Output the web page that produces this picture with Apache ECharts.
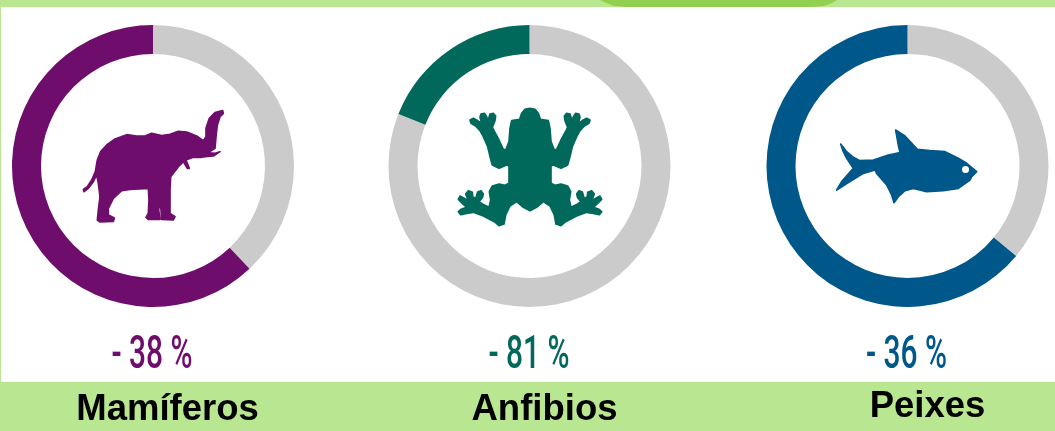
<!DOCTYPE html>
<html>
<head>
<meta charset="utf-8">
<style>
  html, body { margin: 0; padding: 0; background: #fff; }
  #chart { width: 1055px; height: 431px; }
</style>
<script src="https://cdn.jsdelivr.net/npm/echarts@6/dist/echarts.min.js"></script>
</head>
<body>
<div id="chart"></div>
<script>
const groups = ["Mamíferos", "Anfibios", "Peixes"];
const lossValues = [38, 81, 36];
const remainValues = [62, 19, 64];
const lossLabels = ["- 38 %", "- 81 %", "- 36 %"];

// layout
const ringColors = ["#6e0d6c", "#00695c", "#00578a"];
const ringCenters = [[153, 166], [529.5, 166], [907.5, 166]];
const lossLabelX = [152, 529, 906.5];
const groupLabelX = [167.5, 544.5, 927.5];
const groupLabelY = [410, 410, 407];

// icon outlines, in the coordinates of a 3x crop
const elephant = [[428,32],[405,38],[388,55],[378,85],[378,110],[370,122],[350,108],[320,96],[295,94],[270,103],[245,107],[215,100],[195,108],[170,108],[140,104],[105,117],[80,135],[62,155],[52,180],[46,215],[35,240],[22,260],[10,268],[12,275],[25,265],[40,245],[50,225],[55,250],[60,290],[55,330],[52,360],[60,366],[100,364],[103,354],[85,345],[85,325],[100,295],[125,272],[150,268],[205,265],[207,300],[205,340],[198,352],[205,358],[240,358],[236,330],[240,300],[243,330],[245,358],[280,360],[285,350],[270,340],[270,270],[272,230],[295,200],[310,185],[322,205],[328,205],[318,180],[340,172],[362,172],[375,170],[400,168],[420,155],[405,160],[385,158],[405,145],[408,110],[412,75],[420,50],[430,40]];
const frogHalf = [[225,25],[240,28],[250,40],[256,58],[280,62],[285,85],[288,125],[298,150],[305,148],[318,120],[333,92],[338,82],[330,62],[328,48],[335,40],[345,42],[348,52],[350,64],[355,50],[362,40],[372,42],[375,52],[370,70],[385,60],[395,55],[405,60],[402,70],[388,78],[375,92],[365,110],[352,140],[345,170],[338,195],[318,205],[295,195],[288,198],[288,250],[300,256],[318,252],[338,258],[347,275],[343,300],[348,322],[368,312],[378,305],[368,293],[365,282],[372,272],[382,276],[388,296],[397,290],[398,277],[410,272],[418,282],[410,303],[425,293],[435,288],[440,298],[428,310],[415,322],[432,328],[440,335],[433,344],[415,340],[395,337],[365,348],[332,365],[318,377],[303,372],[298,345],[285,318],[265,305],[245,322],[225,332]];
const fish = [[32,72],[50,95],[70,112],[90,122],[130,120],[175,105],[210,98],[205,75],[197,30],[225,48],[262,88],[300,92],[345,95],[385,115],[410,130],[440,155],[425,170],[420,180],[385,205],[340,212],[290,215],[250,205],[225,212],[205,230],[192,248],[185,225],[170,195],[140,160],[135,150],[100,160],[60,185],[20,210],[35,185],[70,145],[50,115],[40,95]];
const tab = [[600,0],[606,3],[614,6],[626,7],[812,7],[824,6],[832,3],[837,0]];

function icon(points, x, y, color) {
  return {
    type: "polygon",
    x: x,
    y: y,
    scaleX: 1 / 3,
    scaleY: 1 / 3,
    z: 5,
    shape: { points: points },
    style: { fill: color, stroke: color, lineWidth: 5, lineJoin: "round" },
  };
}

const frog = frogHalf.concat(frogHalf.slice(1, -1).reverse().map((p) => [450 - p[0], p[1]]));

const chart = echarts.init(document.getElementById("chart"));

chart.setOption({
  animation: false,
  backgroundColor: "#b9e690",
  graphic: [
    { type: "rect", z: 0, shape: { x: 1, y: 7, width: 1054, height: 375 }, style: { fill: "#fff" } },
    { type: "polygon", z: 1, shape: { points: tab }, style: { fill: "#92d14f" } },
    icon(elephant, 80, 100, ringColors[0]),
    icon(frog, 455, 100, ringColors[1]),
    icon(fish, 830, 120, ringColors[2]),
    {
      type: "circle",
      z: 6,
      shape: { cx: 965.5, cy: 169.5, r: 3.5 },
      style: { fill: "#fff" },
    },
    ...lossLabels.map((text, i) => ({
      type: "text",
      x: lossLabelX[i],
      y: 356,
      scaleX: 0.65,
      z: 5,
      style: {
        text: text,
        fill: ringColors[i],
        font: '500 46px Roboto, sans-serif',
        textAlign: "center",
        textVerticalAlign: "middle",
      },
    })),
    ...groups.map((text, i) => ({
      type: "text",
      x: groupLabelX[i],
      y: groupLabelY[i],
      z: 5,
      style: {
        text: text,
        fill: "#000",
        font: 'bold 36.5px "Liberation Sans", Arial, sans-serif',
        textAlign: "center",
        textVerticalAlign: "middle",
      },
    })),
  ],
  series: groups.map((name, i) => ({
    name: name,
    type: "pie",
    silent: true,
    center: ringCenters[i],
    radius: [112, 141],
    startAngle: 90,
    clockwise: true,
    label: { show: false },
    labelLine: { show: false },
    data: [
      { name: "perda", value: lossValues[i], itemStyle: { color: "#cbcbcb" } },
      { name: "restante", value: remainValues[i], itemStyle: { color: ringColors[i] } },
    ],
  })),
});
</script>
</body>
</html>
